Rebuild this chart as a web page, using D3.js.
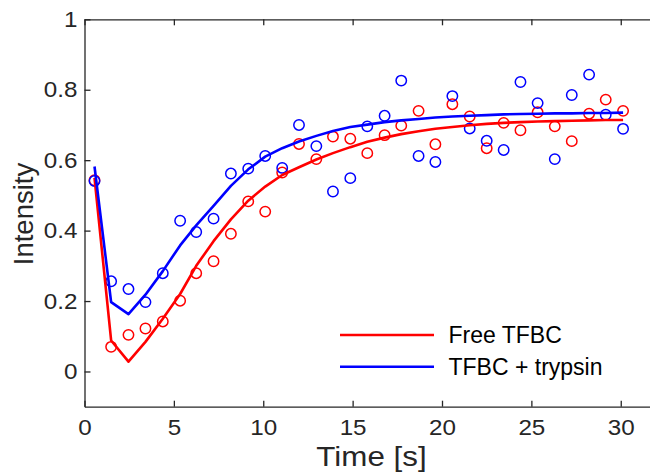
<!DOCTYPE html>
<html><head><meta charset="utf-8">
<script src="https://cdn.jsdelivr.net/npm/d3@7"></script>
<style>
body{margin:0;background:#fff}
svg{display:block}
text{font-family:"Liberation Sans",Arial,Helvetica,sans-serif;fill:#262626}
</style>
</head><body>
<svg id="chart" width="650" height="474"></svg>
<script>
// ---- data ----
const times = [0.56,1.49,2.46,3.41,4.38,5.35,6.25,7.22,8.19,9.16,10.11,11.06,12.0,12.97,13.9,14.87,
               15.82,16.79,17.72,18.69,19.63,20.58,21.55,22.5,23.45,24.39,25.35,26.31,27.26,28.23,29.16,30.13];
const freeObs = [0.543,0.070,0.104,0.122,0.142,0.201,0.279,0.313,0.391,0.483,0.454,0.565,0.646,0.603,0.667,0.661,
                 0.620,0.671,0.698,0.740,0.645,0.759,0.724,0.634,0.706,0.685,0.736,0.696,0.654,0.732,0.772,0.740];
const trypObs = [0.541,0.256,0.234,0.197,0.279,0.428,0.396,0.434,0.562,0.576,0.612,0.578,0.700,0.640,0.511,0.549,
                 0.696,0.726,0.826,0.612,0.595,0.782,0.690,0.655,0.629,0.822,0.762,0.603,0.785,0.843,0.729,0.689];
const freeFit = [0.550,0.088,0.028,0.084,0.150,0.220,0.300,0.370,0.432,0.485,0.525,0.558,0.580,0.602,0.620,0.637,
                 0.652,0.664,0.674,0.682,0.689,0.694,0.699,0.703,0.706,0.708,0.710,0.711,0.712,0.713,0.714,0.714];
const trypFit = [0.582,0.197,0.163,0.218,0.285,0.358,0.415,0.470,0.527,0.574,0.610,0.634,0.653,0.669,0.683,0.694,
                 0.701,0.708,0.713,0.717,0.721,0.724,0.726,0.728,0.730,0.731,0.732,0.733,0.733,0.734,0.734,0.735];
const seriesNames = ["Free TFBC","TFBC + trypsin"];
const seriesColors = ["#ff0000","#0000ff"];
const xTicks = [0,5,10,15,20,25,30];
const yTicks = [0,0.2,0.4,0.6,0.8,1];
const yTickLabels = ["0","0.2","0.4","0.6","0.8","1"];
const xDomain = [0,32];
const yDomain = [-0.1,1];
const xTitle = "Time [s]";
const yTitle = "Intensity";

// ---- layout ----
const L = 84.5, R = 656.5, T = 19.3, B = 406.7;
const SX = 1.1; // horizontal widening of the reference's horizontal text
const svg = d3.select("#chart");
const x = d3.scaleLinear().domain(xDomain).range([L,R]);
const y = d3.scaleLinear().domain(yDomain).range([B,T]);
const axisColor = "#262626";

function styleAxis(g){
  g.select(".domain").attr("stroke",axisColor).attr("stroke-width",1.3);
  g.selectAll(".tick line").attr("stroke",axisColor).attr("stroke-width",1.3);
  g.selectAll("text").attr("fill",axisColor).style("font-size","22px")
    .style("font-family",'"Liberation Sans",Arial,sans-serif')
    .attr("transform",`scale(${SX},1)`);
}

// bottom
svg.append("g").attr("transform",`translate(0,${B})`)
  .call(d3.axisBottom(x).tickValues(xTicks).tickFormat(d3.format("d"))
        .tickSizeInner(-6).tickSizeOuter(0).tickPadding(12.5))
  .call(styleAxis);
// top (no labels)
svg.append("g").attr("transform",`translate(0,${T})`)
  .call(d3.axisTop(x).tickValues(xTicks).tickFormat("")
        .tickSizeInner(-6).tickSizeOuter(0))
  .call(styleAxis);
// left
svg.append("g").attr("transform",`translate(${L},0)`)
  .call(d3.axisLeft(y).tickValues(yTicks).tickFormat((d,i)=>yTickLabels[i])
        .tickSizeInner(-6).tickSizeOuter(0).tickPadding(7/SX))
  .call(styleAxis);
// right (no labels)
svg.append("g").attr("transform",`translate(${R},0)`)
  .call(d3.axisRight(y).tickValues(yTicks).tickFormat("")
        .tickSizeInner(-6).tickSizeOuter(0))
  .call(styleAxis);

// titles
svg.append("g").attr("transform",`translate(${(L+R)/2+1},466) scale(1.12,1)`)
  .append("text").attr("text-anchor","middle").style("font-size","28px").text(xTitle);
svg.append("text").attr("transform",`translate(33.3,${(T+B)/2+1}) rotate(-90)`)
  .attr("text-anchor","middle").style("font-size","27.5px").text(yTitle);

// data
const obs = [freeObs, trypObs];
const fits = [freeFit, trypFit];
const line = d3.line().x(d=>x(d[0])).y(d=>y(d[1]));

[0,1].forEach(s=>{
  svg.append("g").selectAll("circle")
    .data(times.map((t,i)=>[t,obs[s][i]]))
    .join("circle")
    .attr("cx",d=>x(d[0])).attr("cy",d=>y(d[1])).attr("r",5.2)
    .attr("fill","none").attr("stroke",seriesColors[s]).attr("stroke-width",1.5);
});
[0,1].forEach(s=>{
  svg.append("path").datum(times.map((t,i)=>[t,fits[s][i]]))
    .attr("d",line).attr("fill","none").attr("stroke",seriesColors[s])
    .attr("stroke-width",2.6).attr("stroke-linejoin","round");
});

// legend
const legY = [335,366.7];
const leg = svg.append("g");
seriesNames.forEach((n,i)=>{
  leg.append("line").attr("x1",340).attr("x2",434).attr("y1",legY[i]).attr("y2",legY[i])
    .attr("stroke",seriesColors[i]).attr("stroke-width",2.6);
  leg.append("text").attr("x",448.5).attr("y",legY[i]).attr("dy","0.35em")
    .style("font-size","23px").style("fill","#000").text(n);
});
</script>
</body></html>
